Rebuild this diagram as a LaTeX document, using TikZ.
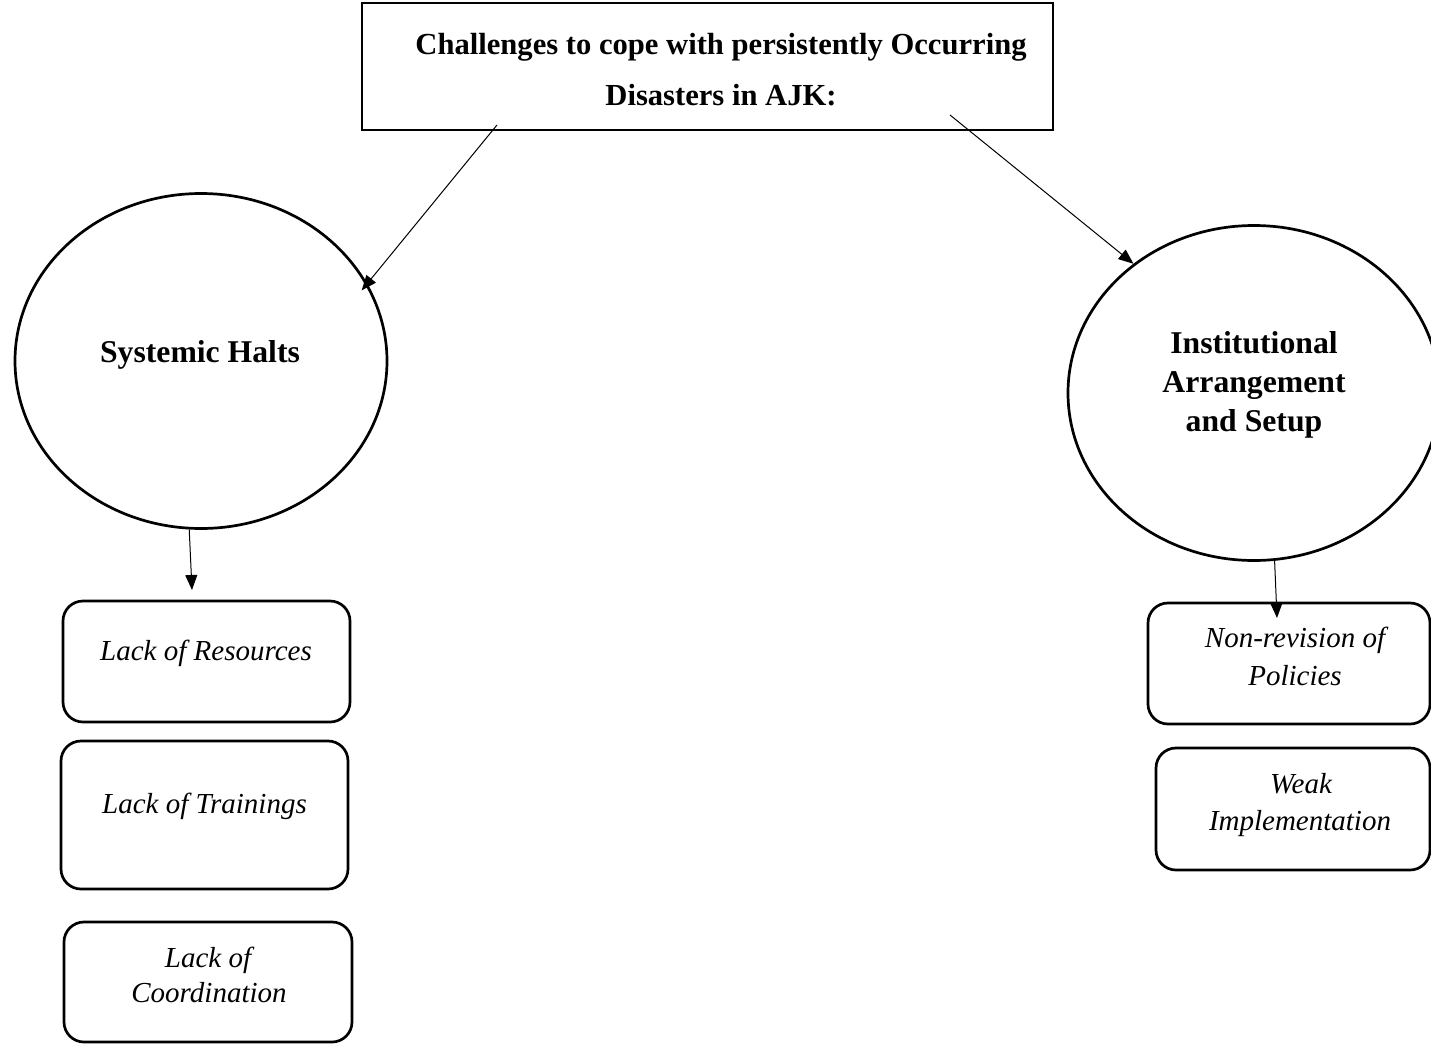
\documentclass[tikz,border=0pt]{standalone}
\usepackage{fontspec}
\setmainfont{Liberation Serif}
\usetikzlibrary{shapes.geometric,arrows.meta}
\begin{document}
\begin{tikzpicture}[x=1pt,y=-1pt,
  titlef/.style={font=\fontsize{30.6}{36}\selectfont\bfseries, anchor=base, inner sep=0pt},
  circf/.style={font=\fontsize{31.7}{38}\selectfont\bfseries, anchor=base, inner sep=0pt},
  boxf/.style={font=\fontsize{29}{35}\selectfont\itshape, anchor=base, inner sep=0pt},
  circ/.style={draw, ellipse, line width=2.7pt, minimum width=372pt, minimum height=335pt, inner sep=0pt},
  rbox/.style={draw, rectangle, rounded corners=20pt, line width=2.7pt, inner sep=0pt},
  tbox/.style={draw, rectangle, line width=2.7pt, inner sep=0pt},
  arr/.style={-{Triangle[length=15pt,width=12pt]}, line width=1pt}]
\useasboundingbox (0,0) rectangle (1431,1046);

% top box
\node[tbox, minimum width=691pt, minimum height=127pt] (top) at (707.5,66.5) {};
\node[titlef] (t1) at (721,55) {Challenges to cope with persistently Occurring};
\node[titlef] (t2) at (721,106) {Disasters in AJK:};

% circles
\node[circ] (sh) at (201,361) {};
\node[circf] (sht) at (200,362) {Systemic Halts};
\node[circ] (ih) at (1254,393) {};
\node[circf] (ih1) at (1254,353) {Institutional};
\node[circf] (ih2) at (1254,392) {Arrangement};
\node[circf] (ih3) at (1254,431) {and Setup};

% left boxes
\node[rbox, minimum width=287pt, minimum height=121pt] (b1) at (206.5,661.5) {};
\node[boxf] (b1t) at (206,660) {Lack of Resources};
\node[rbox, minimum width=287pt, minimum height=148pt] (b2) at (204.5,815) {};
\node[boxf] (b2t) at (204.5,813) {Lack of Trainings};
\node[rbox, minimum width=288pt, minimum height=120pt] (b3) at (208,982) {};
\node[boxf] (b3a) at (208,967) {Lack of};
\node[boxf] (b3b) at (209,1002) {Coordination};

% right boxes
\node[rbox, minimum width=282pt, minimum height=121pt] (r1) at (1289,663.5) {};
\node[boxf] (r1a) at (1295,647) {Non-revision of};
\node[boxf] (r1b) at (1295,685) {Policies};
\node[rbox, minimum width=274pt, minimum height=122pt] (r2) at (1293,809) {};
\node[boxf] (r2a) at (1301,793) {Weak};
\node[boxf] (r2b) at (1300,830) {Implementation};

% connectors
\coordinate (s1) at (497,125);
\coordinate (s2) at (950,115);
\coordinate (e3) at (192,590);
\coordinate (e4) at (1277,618);
\draw[arr, shorten >=-9pt] (s1) -- (sh.25);
\draw[arr] (s2) -- (ih.133);
\draw[arr] (sh.266) -- (e3);
\draw[arr] (ih.277.5) -- (e4);
\end{tikzpicture}
\end{document}
